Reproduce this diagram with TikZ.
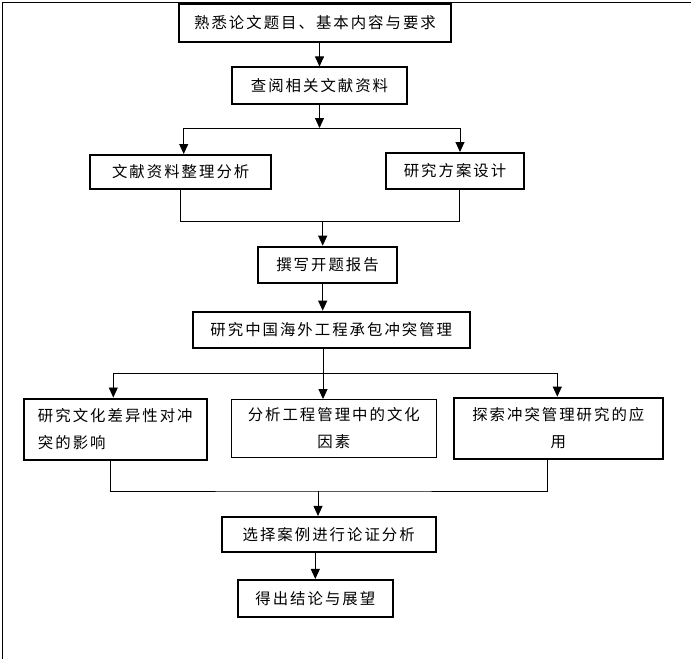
\documentclass[tikz,border=0pt]{standalone}
\usepackage{fontspec}
\newfontfamily\cjk[LetterSpace=13]{Noto Sans CJK SC}
\usetikzlibrary{arrows.meta}
\begin{document}
\begin{tikzpicture}[
    x=1pt, y=-1pt, line width=0.9pt,
    box/.style={draw,line width=2pt,inner sep=0pt,
      font=\cjk\fontsize{15.4}{27}\selectfont},
    lite/.style={box,line width=0.9pt},
    arr/.style={-{Triangle[length=10pt,width=9pt]}}
  ]
  \useasboundingbox (0,0) rectangle (691,659);
  \draw (691,2) -- (2,2) -- (2,659);
  % Steps.
  \node[box,minimum width=272pt,minimum height=38pt] (topic) at (315,23) {熟悉论文题目、基本内容与要求};
  \node[box,minimum width=175pt,minimum height=36.5pt] (refs) at (319.5,85.7) {查阅相关文献资料};
  \node[box,minimum width=180.5pt,minimum height=34pt] (sortout) at (180.7,172) {文献资料整理分析};
  \node[box,minimum width=138pt,minimum height=36pt] (plan) at (455,171) {研究方案设计};
  \node[box,minimum width=139.6pt,minimum height=36.3pt] (report) at (327.5,264.8) {撰写开题报告};
  \node[box,minimum width=277.3pt,minimum height=36.3pt] (conflict) at (331.3,329.8) {研究中国海外工程承包冲突管理};
  \node[box,minimum width=183.3pt,minimum height=61pt,align=left] (diff) at (115.3,429) {研究文化差异性对冲\\突的影响};
  \node[lite,minimum width=205.3pt,minimum height=58pt,align=center] (culture) at (333.8,428.5) {分析工程管理中的文化\\因素};
  \node[box,minimum width=209.3pt,minimum height=61.3pt,align=center] (apply) at (558.3,428.3) {探索冲突管理研究的应\\用};
  \node[box,minimum width=214pt,minimum height=34.7pt] (cases) at (328.7,534.3) {选择案例进行论证分析};
  \node[box,minimum width=155.3pt,minimum height=36.7pt] (concl) at (315.3,598.3) {得出结论与展望};
  % Branch and join points.
  \coordinate (s1) at (319.5,128);
  \coordinate (j1) at (322.7,221.5);
  \coordinate (s2) at (323,373.3);
  \coordinate (j2) at (318,491);
  \draw[arr] (topic.south -| refs) -- (refs.north);
  \draw[arr] (refs.south) -- (s1);
  \draw[arr] (s1) -| ([xshift=3pt]sortout.north);
  \draw[arr] (s1) -| ([xshift=5pt]plan.north);
  \draw (sortout.south) |- (j1) -| ([xshift=4pt]plan.south);
  \draw[arr] (j1) -- (j1 |- report.north);
  \draw[arr] (report.south -| j1) -- (j1 |- conflict.north);
  \draw[arr] (conflict.south -| s2) -- (s2 |- culture.north);
  \draw[arr] (s2) -| ([xshift=-2pt]diff.north);
  \draw[arr] (s2) -| ([xshift=-1pt]apply.north);
  \draw ([xshift=-4.6pt]diff.south) |- (j2) -| ([xshift=-11pt]apply.south);
  \draw[arr] (j2) -- (j2 |- cases.north);
  \draw[arr] (cases.south -| concl) -- (concl.north);
\end{tikzpicture}
\end{document}
